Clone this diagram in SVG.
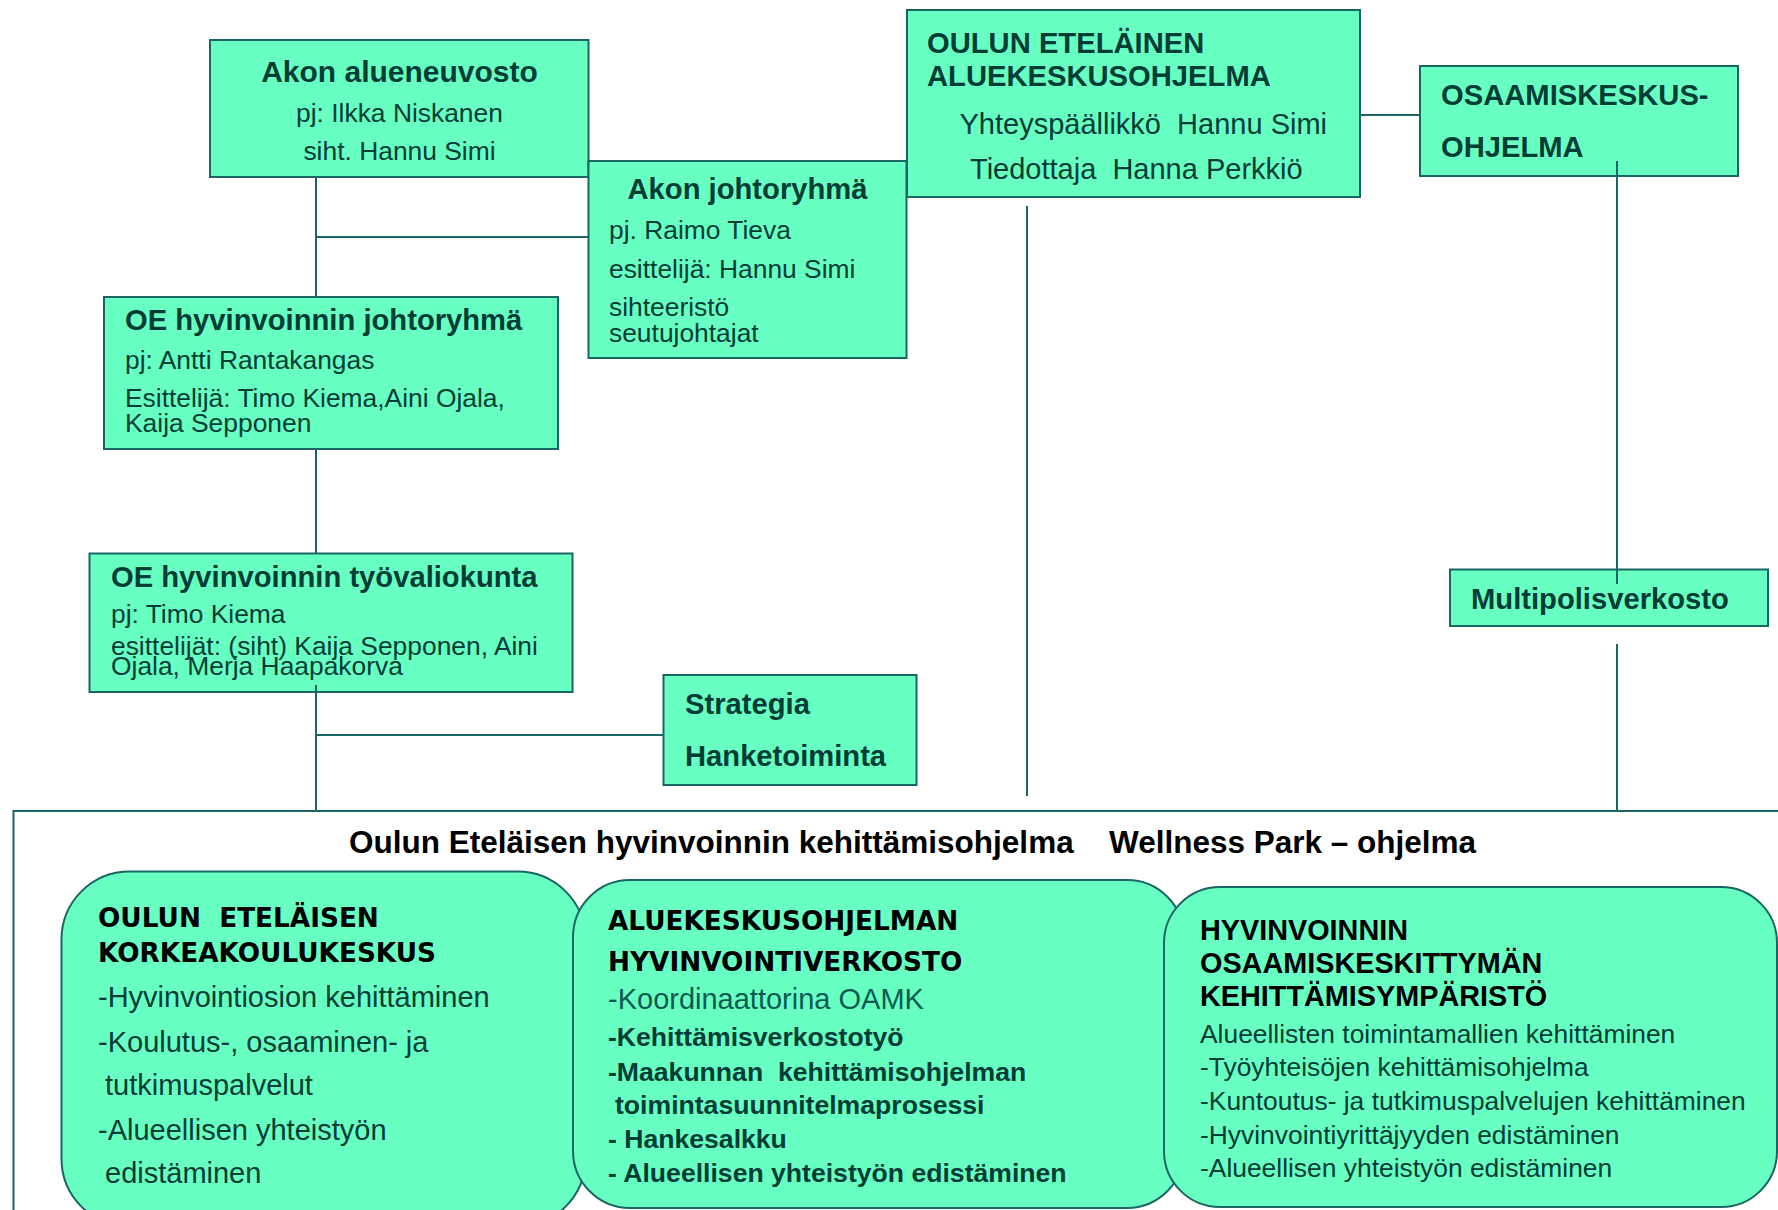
<svg xmlns="http://www.w3.org/2000/svg" width="1778" height="1210" viewBox="0 0 1778 1210">
<style>
.box{fill:#68ffc2;stroke:#1b6565;stroke-width:2}
.cont{fill:#ffffff;stroke:#1b6565;stroke-width:2}
.hb{font-family:"Liberation Sans",Arial,sans-serif;font-weight:bold;font-size:29.2px;fill:#003d35}
.rg{font-family:"Liberation Sans",Arial,sans-serif;font-size:26.4px;fill:#003d35}
.rg29{font-family:"Liberation Sans",Arial,sans-serif;font-size:29px;fill:#003d35}
.title{font-family:"Liberation Sans",Arial,sans-serif;font-weight:bold;font-size:31.5px;fill:#000000}
.vh{font-family:"DejaVu Sans",Verdana,sans-serif;font-weight:bold;font-size:26.3px;fill:#000000}
.ab{font-family:"Liberation Sans",Arial,sans-serif;font-weight:bold;font-size:28.8px;fill:#000000}
.tb{font-family:"Liberation Sans",Arial,sans-serif;font-weight:bold;font-size:26.6px;fill:#003d35}
.lite{fill:#0b5a50}
.c{text-anchor:middle}
.conn line{stroke:#1b6565;stroke-width:2}
</style>

<g id="wellness-park">
  <rect class="cont" x="13.5" y="811" width="1800" height="500"/>
  <text class="title" x="349" y="853">Oulun Eteläisen hyvinvoinnin kehittämisohjelma</text>
  <text class="title" x="1109" y="853">Wellness Park – ohjelma</text>
</g>

<g id="korkeakoulukeskus">
  <rect class="box" x="61.5" y="871.5" width="524" height="355" rx="68" ry="68"/>
  <text class="vh" x="98" y="926.5" xml:space="preserve">OULUN  ETELÄISEN</text>
  <text class="vh" x="98" y="961.5">KORKEAKOULUKESKUS</text>
  <text class="rg29" x="98" y="1006.5">-Hyvinvointiosion kehittäminen</text>
  <text class="rg29" x="98" y="1051.5">-Koulutus-, osaaminen- ja</text>
  <text class="rg29" x="105" y="1095">tutkimuspalvelut</text>
  <text class="rg29" x="98" y="1140">-Alueellisen yhteistyön</text>
  <text class="rg29" x="105" y="1183">edistäminen</text>
</g>

<g id="hyvinvointiverkosto">
  <rect class="box" x="573" y="880" width="611" height="328" rx="57" ry="57"/>
  <text class="vh" x="608" y="929.5">ALUEKESKUSOHJELMAN</text>
  <text class="vh" x="608" y="970.5">HYVINVOINTIVERKOSTO</text>
  <text class="rg29 lite" x="608" y="1008.5">-Koordinaattorina OAMK</text>
  <text class="tb" x="608" y="1045.5">-Kehittämisverkostotyö</text>
  <text class="tb" x="608" y="1080.5" xml:space="preserve">-Maakunnan  kehittämisohjelman</text>
  <text class="tb" x="615" y="1113.5">toimintasuunnitelmaprosessi</text>
  <text class="tb" x="608" y="1147.5">- Hankesalkku</text>
  <text class="tb" x="608" y="1181.5">- Alueellisen yhteistyön edistäminen</text>
</g>

<g id="kehittamisymparisto">
  <rect class="box" x="1164" y="887" width="613" height="320" rx="56" ry="56"/>
  <text class="ab" x="1200" y="940">HYVINVOINNIN</text>
  <text class="ab" x="1200" y="972.5">OSAAMISKESKITTYMÄN</text>
  <text class="ab" x="1200" y="1006">KEHITTÄMISYMPÄRISTÖ</text>
  <text class="rg" x="1200" y="1042.5">Alueellisten toimintamallien kehittäminen</text>
  <text class="rg" x="1200" y="1076">-Työyhteisöjen kehittämisohjelma</text>
  <text class="rg" x="1200" y="1110">-Kuntoutus- ja tutkimuspalvelujen kehittäminen</text>
  <text class="rg" x="1200" y="1144">-Hyvinvointiyrittäjyyden edistäminen</text>
  <text class="rg" x="1200" y="1176.5">-Alueellisen yhteistyön edistäminen</text>
</g>

<g id="akon-alueneuvosto">
  <rect class="box" x="210" y="40" width="378.5" height="137"/>
  <text class="hb c" x="399.5" y="81.5" style="font-size:30px">Akon alueneuvosto</text>
  <text class="rg c" x="399.5" y="122">pj: Ilkka Niskanen</text>
  <text class="rg c" x="399.5" y="160">siht. Hannu Simi</text>
</g>

<g id="akon-johtoryhma">
  <rect class="box" x="588.5" y="161" width="318" height="197"/>
  <text class="hb c" x="747.5" y="199">Akon johtoryhmä</text>
  <text class="rg" x="609" y="239">pj. Raimo Tieva</text>
  <text class="rg" x="609" y="278">esittelijä: Hannu Simi</text>
  <text class="rg" x="609" y="316">sihteeristö</text>
  <text class="rg" x="609" y="341.5">seutujohtajat</text>
</g>

<g id="oe-johtoryhma">
  <rect class="box" x="104" y="297" width="454" height="152"/>
  <text class="hb" x="125" y="330">OE hyvinvoinnin johtoryhmä</text>
  <text class="rg" x="125" y="368.5">pj: Antti Rantakangas</text>
  <text class="rg" x="125" y="406.5">Esittelijä: Timo Kiema,Aini Ojala,</text>
  <text class="rg" x="125" y="431.5">Kaija Sepponen</text>
</g>

<g id="oe-tyovaliokunta">
  <rect class="box" x="89.5" y="553.5" width="483" height="138.5"/>
  <text class="hb" x="111" y="586.5">OE hyvinvoinnin työvaliokunta</text>
  <text class="rg" x="111" y="622.5">pj: Timo Kiema</text>
  <text class="rg" x="111" y="655">esittelijät: (siht) Kaija Sepponen, Aini</text>
  <text class="rg" x="111" y="675">Ojala, Merja Haapakorva</text>
</g>

<g id="strategia">
  <rect class="box" x="663.5" y="675" width="253" height="110"/>
  <text class="hb" x="685" y="714">Strategia</text>
  <text class="hb" x="685" y="766">Hanketoiminta</text>
</g>

<g id="alueekeskusohjelma">
  <rect class="box" x="907" y="10" width="453" height="187"/>
  <text class="hb" x="927" y="52.5">OULUN ETELÄINEN</text>
  <text class="hb" x="927" y="86">ALUEKESKUSOHJELMA</text>
  <text class="rg29" x="959.5" y="133.5" xml:space="preserve">Yhteyspäällikkö  Hannu Simi</text>
  <text class="rg29" x="970" y="178.5" xml:space="preserve">Tiedottaja  Hanna Perkkiö</text>
</g>

<g id="osaamiskeskusohjelma">
  <rect class="box" x="1420" y="66" width="318" height="110"/>
  <text class="hb" x="1441" y="105">OSAAMISKESKUS-</text>
  <text class="hb" x="1441" y="156.5">OHJELMA</text>
</g>

<g id="multipolisverkosto">
  <rect class="box" x="1450" y="569.5" width="318" height="56.5"/>
  <text class="hb" x="1471" y="608.5">Multipolisverkosto</text>
</g>

<g id="connectors" class="conn">
  <line x1="316" y1="177" x2="316" y2="297"/>
  <line x1="316" y1="237" x2="588.5" y2="237"/>
  <line x1="316" y1="449" x2="316" y2="553.5"/>
  <line x1="316" y1="685" x2="316" y2="811"/>
  <line x1="316" y1="735" x2="663.5" y2="735"/>
  <line x1="1027" y1="206" x2="1027" y2="796"/>
  <line x1="1360" y1="115" x2="1420" y2="115"/>
  <line x1="1617" y1="161" x2="1617" y2="584"/>
  <line x1="1617" y1="644" x2="1617" y2="811"/>
</g>
</svg>
